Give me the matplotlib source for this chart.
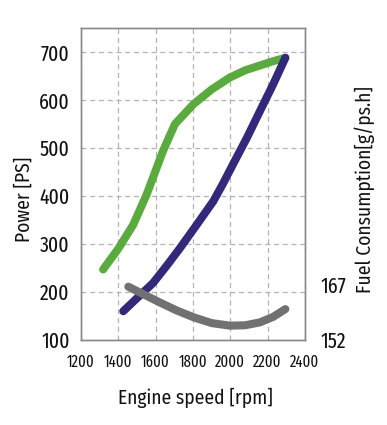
import matplotlib
matplotlib.use("Agg")
import matplotlib.pyplot as plt
from matplotlib import font_manager

# ---- data ----
power_rpm = [1319, 1400, 1480, 1552, 1641, 1704, 1802, 1900, 1998, 2080, 2159, 2230, 2295]
power_ps = [247, 290, 340, 403, 495, 550, 591, 622, 647, 662, 672, 681, 688]

torque_rpm = [1427, 1500, 1587, 1660, 1730, 1820, 1909, 1960, 2016, 2090, 2159, 2230, 2295]
torque_val = [160, 187, 219, 255, 291, 340, 389, 425, 467, 522, 577, 633, 688]

fuel_rpm = [1454, 1540, 1623, 1710, 1802, 1900, 1998, 2080, 2159, 2230, 2295]
fuel_val = [166.5, 164.3, 162.2, 160.1, 158.2, 156.6, 155.9, 156.0, 156.8, 158.3, 160.4]

x_ticks = [1200, 1400, 1600, 1800, 2000, 2200, 2400]
y_ticks = [100, 200, 300, 400, 500, 600, 700]
fuel_ticks = [152, 167]

avail = {f.name for f in font_manager.fontManager.ttflist}
def pick(*cands):
    for c in cands:
        if c in avail:
            return c
    return "DejaVu Sans"
tick_font = pick("Fira Sans Extra Condensed", "PT Sans Narrow", "Roboto Condensed")
label_font = pick("Fira Sans Condensed", "Roboto Condensed", "Lato")

GREEN = "#5aab3d"
PURPLE = "#33297b"
GRAY = "#717171"
TXT = "#111111"

fig = plt.figure(figsize=(3.87, 4.25), dpi=100)
ax = fig.add_axes([0.209, 0.2, 0.579, 0.734])
ax2 = ax.twinx()

lw = 5.8
ax.plot(power_rpm, power_ps, color=GREEN, lw=lw, solid_capstyle="round", solid_joinstyle="round", zorder=3)
ax.plot(torque_rpm, torque_val, color=PURPLE, lw=lw, solid_capstyle="round", solid_joinstyle="round", zorder=3)
ax2.plot(fuel_rpm, fuel_val, color=GRAY, lw=lw, solid_capstyle="round", solid_joinstyle="round", zorder=4)

ax.set_xlim(1200, 2400)
ax.set_ylim(100, 750)
ax2.set_ylim(152, 236.8)

ax.set_xticks(x_ticks)
ax.set_yticks(y_ticks)
ax2.set_yticks(fuel_ticks)

ax.grid(True, which="major", linestyle=(0, (4, 3)), color="#b4b4b4", linewidth=0.9)
ax.set_axisbelow(True)

for a in (ax, ax2):
    for s in a.spines.values():
        s.set_color("#8a8a8a")
        s.set_linewidth(1.0)

ax.tick_params(axis="both", length=0)
ax2.tick_params(axis="y", length=0)
ax.tick_params(axis="y", pad=8, labelsize=15.5)
ax.tick_params(axis="x", pad=10, labelsize=11.5)
ax2.tick_params(axis="y", pad=11, labelsize=15.5)
for t in ax.get_xticklabels() + ax.get_yticklabels() + ax2.get_yticklabels():
    t.set_fontfamily(tick_font)
    t.set_color(TXT)

fig.text(0.062, 0.53, "Power [PS]", rotation=90, ha="center", va="center",
         fontsize=14, family=label_font, color=TXT)
fig.text(0.504, 0.063, "Engine speed [rpm]", ha="center", va="center",
         fontsize=14, family=label_font, color=TXT)
fig.text(0.943, 0.553, "Fuel Consumption[g/ps.h]", rotation=90, ha="center", va="center",
         fontsize=14, family=label_font, color=TXT)

fig.savefig("out.png", dpi=100)
